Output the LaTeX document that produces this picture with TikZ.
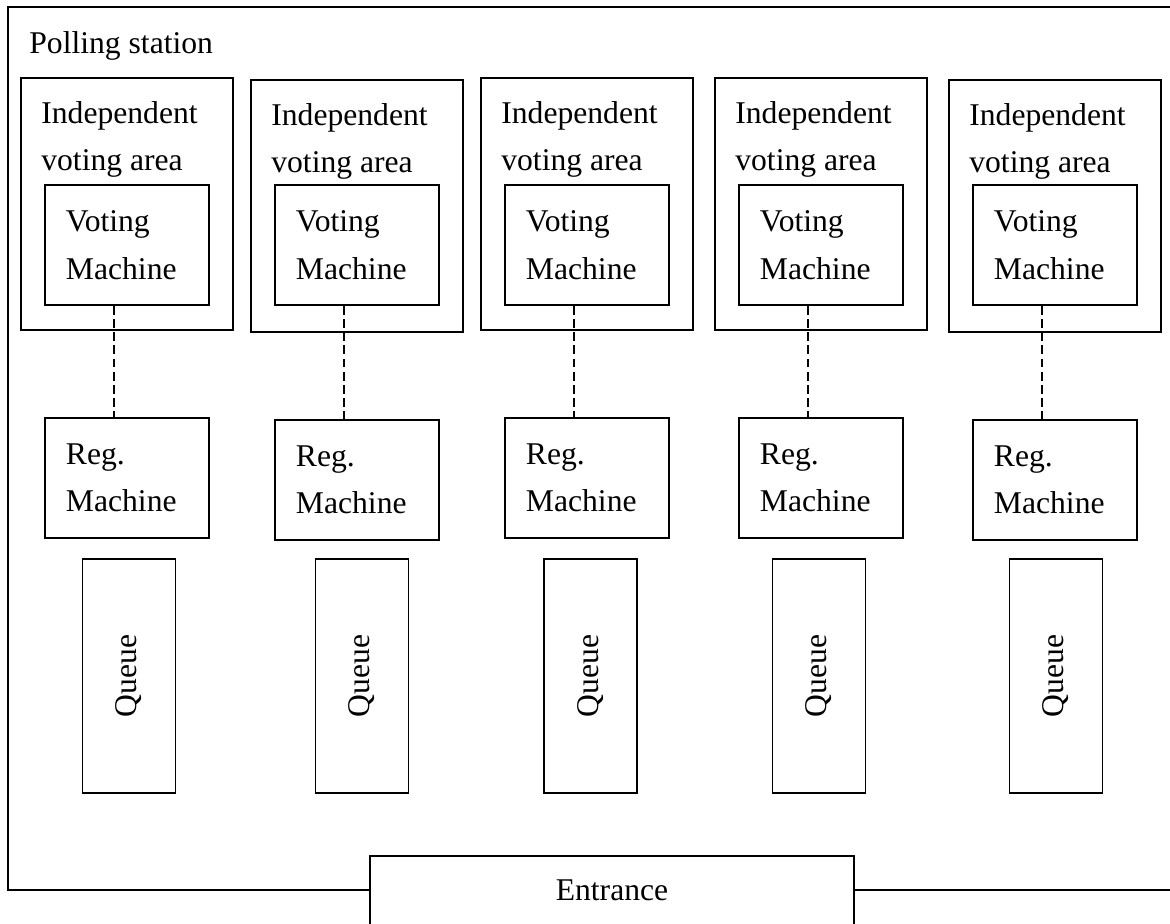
\documentclass[tikz,border=0pt]{standalone}
\usepackage{fontspec}
\setmainfont{Liberation Serif}
\begin{document}
\begin{tikzpicture}[x=0.2mm, y=-0.2mm,
    every node/.style={font=\fontsize{18}{27}\selectfont},
    box/.style={draw, line width=1.1pt, rectangle, inner sep=0pt},
    area/.style={box, minimum width=42.4mm, minimum height=50.4mm, anchor=north west},
    machine/.style={box, anchor=north west, minimum width=32.8mm, minimum height=24mm,
      align=left, text width=24.4mm, inner xsep=4.2mm},
    queuebox/.style={box, rotate=90, minimum width=46.8mm, minimum height=18.6mm},
    link/.style={dash pattern=on 5pt off 2.5pt, line width=0.8pt}]
    \useasboundingbox (0,0) rectangle (1170,923);
    \clip (0,0) rectangle (1170,923);

    % Polling station
    \node[box, anchor=north west, minimum width=234.6mm, minimum height=176.6mm] (station) at (7,6) {};
    \node[anchor=base west, inner sep=0pt] (title) at (29,53) {Polling station};

    % One column per voting area
    \foreach \i/\ax/\dy/\qx in {1/20/0/129, 2/250/2/362, 3/480/0/590.5, 4/714/0/819, 5/948/2/1056}
      {
        \node[area] (area\i) at (\ax,{77+\dy}) {};
        \node[anchor=north west, align=left, inner xsep=4.2mm, inner ysep=4.8mm] (areatext\i)
          at (area\i.north west) {Independent\\voting area};
        \node[machine] (vm\i) at ({\ax+24},184) {Voting\\Machine};
        \node[machine] (reg\i) at ({\ax+24},{417+\dy}) {Reg.\\Machine};
        \draw[link] ([xshift=14mm]vm\i.south west) -- ([xshift=14mm]reg\i.north west);
        \node[queuebox] (queue\i) at (\qx,676) {Queue};
      }

    % Entrance
    \node[box, fill=white, anchor=north, minimum width=96.8mm, text height=9mm, text depth=9mm]
      (entrance) at (612,855) {Entrance};
  \end{tikzpicture}
\end{document}
